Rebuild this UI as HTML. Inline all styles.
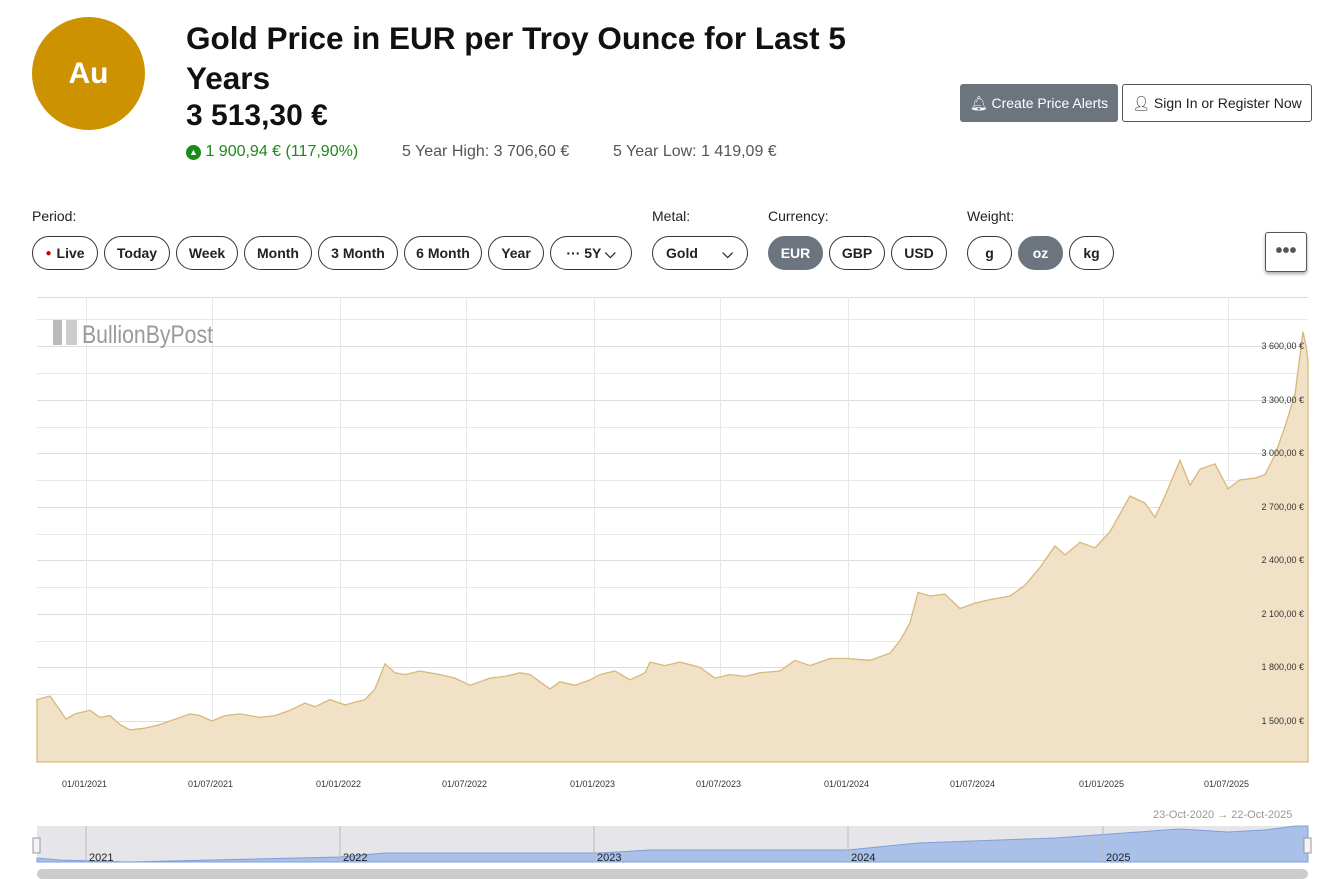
<!DOCTYPE html>
<html><head><meta charset="utf-8"><style>
body{margin:0;width:1328px;height:894px;background:#fff;font-family:"Liberation Sans",sans-serif;color:#222;position:relative;overflow:hidden}
.abs{position:absolute}
.logo{left:32px;top:17px;width:113px;height:113px;border-radius:50%;background:#cc9200;color:#fff;font-size:30px;font-weight:bold;display:flex;align-items:center;justify-content:center}
h1{position:absolute;left:186px;top:18px;margin:0;font-size:31.5px;line-height:40px;font-weight:bold;width:700px;color:#111}
.price{left:186px;top:99px;font-size:30px;font-weight:bold;color:#111}
.sub{top:143px;font-size:16px;color:#555}
.btn{position:absolute;border:1px solid #333;border-radius:21px;height:34px;box-sizing:border-box;font-size:14px;font-weight:bold;display:flex;align-items:center;justify-content:center;background:#fff;color:#222}
.dark{background:#6c757d;color:#fff;border-color:#6c757d}
.lbl{position:absolute;font-size:14px;color:#222;top:208px}
.yl{position:absolute;font-size:9px;color:#333;right:24px}
.xl{position:absolute;font-size:9px;color:#333;top:779px}
</style></head><body>
<div class="abs logo">Au</div>
<h1>Gold Price in EUR per Troy Ounce for Last 5 Years</h1>
<div class="abs price">3 513,30 €</div>
<div class="abs sub" style="left:186px;color:#1a8a1a"><span style="display:inline-block;width:15px;height:15px;border-radius:50%;background:#1a8a1a;color:#fff;font-size:9px;text-align:center;line-height:15px;vertical-align:1px">▲</span> 1 900,94 € (117,90%)</div>
<div class="abs sub" style="left:402px">5 Year High: 3 706,60 €</div>
<div class="abs sub" style="left:613px">5 Year Low: 1 419,09 €</div>
<div class="abs" style="left:960px;top:84px;width:158px;height:38px;background:#6c757d;border-radius:3px;color:#fff;font-size:14px;display:flex;align-items:center;justify-content:center">🔔︎ Create Price Alerts</div>
<div class="abs" style="left:1122px;top:84px;width:188px;height:36px;border:1px solid #555;border-radius:3px;font-size:14px;display:flex;align-items:center;justify-content:center">👤︎ Sign In or Register Now</div>
<div class="lbl" style="left:32px">Period:</div>
<div class="lbl" style="left:652px">Metal:</div>
<div class="lbl" style="left:768px">Currency:</div>
<div class="lbl" style="left:967px">Weight:</div>
<div class="btn" style="left:32px;top:236px;width:66px"><span style="color:#c00;font-size:10px;margin-right:5px">●</span>Live</div>
<div class="btn" style="left:104px;top:236px;width:66px">Today</div>
<div class="btn" style="left:176px;top:236px;width:62px">Week</div>
<div class="btn" style="left:244px;top:236px;width:68px">Month</div>
<div class="btn" style="left:318px;top:236px;width:80px">3 Month</div>
<div class="btn" style="left:404px;top:236px;width:78px">6 Month</div>
<div class="btn" style="left:488px;top:236px;width:56px">Year</div>
<div class="btn" style="left:550px;top:236px;width:82px">··· 5Y ⌵</div>
<div class="btn" style="left:652px;top:236px;width:96px;justify-content:space-between;padding:0 14px 0 13px">Gold<span>⌵</span></div>
<div class="btn dark" style="left:768px;top:236px;width:55px">EUR</div>
<div class="btn" style="left:829px;top:236px;width:56px">GBP</div>
<div class="btn" style="left:891px;top:236px;width:56px">USD</div>
<div class="btn" style="left:967px;top:236px;width:45px">g</div>
<div class="btn dark" style="left:1018px;top:236px;width:45px">oz</div>
<div class="btn" style="left:1069px;top:236px;width:45px">kg</div>
<div class="abs" style="left:1265px;top:232px;width:40px;height:38px;border:1px solid #555;border-radius:3px;box-shadow:0 2px 3px #aaa;font-size:20px;font-weight:bold;text-align:center;line-height:36px;color:#555">•••</div>
<svg class="abs" style="left:0;top:0" width="1328" height="894">
<g stroke="#e8e8e8" stroke-width="1">
<line x1="37" y1="297.5" x2="1308" y2="297.5" stroke="#ddd"/>
<line x1="37" y1="319.5" x2="1308" y2="319.5"/><line x1="37" y1="346.5" x2="1308" y2="346.5" stroke="#ddd"/><line x1="37" y1="373.5" x2="1308" y2="373.5"/><line x1="37" y1="400.5" x2="1308" y2="400.5" stroke="#ddd"/><line x1="37" y1="427.5" x2="1308" y2="427.5"/><line x1="37" y1="453.5" x2="1308" y2="453.5" stroke="#ddd"/><line x1="37" y1="480.5" x2="1308" y2="480.5"/><line x1="37" y1="507.5" x2="1308" y2="507.5" stroke="#ddd"/><line x1="37" y1="534.5" x2="1308" y2="534.5"/><line x1="37" y1="560.5" x2="1308" y2="560.5" stroke="#ddd"/><line x1="37" y1="587.5" x2="1308" y2="587.5"/><line x1="37" y1="614.5" x2="1308" y2="614.5" stroke="#ddd"/><line x1="37" y1="641.5" x2="1308" y2="641.5"/><line x1="37" y1="667.5" x2="1308" y2="667.5" stroke="#ddd"/><line x1="37" y1="694.5" x2="1308" y2="694.5"/><line x1="37" y1="721.5" x2="1308" y2="721.5" stroke="#ddd"/><line x1="37" y1="748.5" x2="1308" y2="748.5"/>
<line x1="86.5" y1="297" x2="86.5" y2="762"/><line x1="212.5" y1="297" x2="212.5" y2="762"/><line x1="340.5" y1="297" x2="340.5" y2="762"/><line x1="466.5" y1="297" x2="466.5" y2="762"/><line x1="594.5" y1="297" x2="594.5" y2="762"/><line x1="720.5" y1="297" x2="720.5" y2="762"/><line x1="848.5" y1="297" x2="848.5" y2="762"/><line x1="974.5" y1="297" x2="974.5" y2="762"/><line x1="1103.5" y1="297" x2="1103.5" y2="762"/><line x1="1228.5" y1="297" x2="1228.5" y2="762"/>
</g>
<path fill="#f1e1c6" stroke="#d9b779" stroke-width="1.3" d="M37,762 L37,699.6 L50,696 L60,710.3 L66,719.2 L75,713.9 L90,710.3 L100,717.4 L110,715.6 L120,724.6 L130,729.9 L145,728.1 L160,724.6 L175,719.2 L190,713.9 L200,715.6 L212,721 L225,715.6 L240,713.9 L260,717.4 L275,715.6 L290,710.3 L305,703.1 L315,706.7 L330,699.6 L345,704.9 L365,699.6 L375,688.9 L385,663.9 L395,672.8 L405,674.6 L420,671 L440,674.6 L455,678.1 L470,685.3 L490,678.1 L505,676.4 L520,672.8 L530,674.6 L550,688.9 L560,681.7 L575,685.3 L590,679.9 L600,674.6 L615,671 L630,679.9 L645,672.8 L650,662.1 L665,665.6 L680,662.1 L700,667.4 L715,678.1 L730,674.6 L745,676.4 L760,672.8 L780,671 L795,660.3 L810,665.6 L830,658.5 L848,658.5 L870,660.3 L890,653.1 L900,640.6 L910,622.8 L918,592.4 L930,596 L945,594.2 L960,608.5 L975,603.1 L990,599.6 L1010,596 L1025,585.3 L1040,567.4 L1055,546 L1065,554.9 L1080,542.4 L1095,547.8 L1110,531.7 L1130,496 L1145,503.1 L1155,517.4 L1165,496 L1180,460.3 L1190,485.3 L1200,469.2 L1215,463.9 L1228,488.9 L1240,479.9 L1255,478.1 L1265,474.6 L1275,454.9 L1285,426.4 L1295,394.2 L1303,331.7 L1306,346 L1308,360.3 L1308,762 Z"/>
<rect x="53" y="320" width="9" height="25" fill="#bbb"/><rect x="66" y="320" width="11" height="25" fill="#ccc"/>
<text x="82" y="343" font-family="Liberation Sans Narrow,Liberation Sans,sans-serif" font-size="25" fill="#999" textLength="131" lengthAdjust="spacingAndGlyphs">BullionByPost</text>
<rect x="37" y="826" width="1271" height="36" fill="#e6e6ea"/>
<path fill="#a9c0e8" stroke="#7d9fdb" d="M37,862 L37,858 L60,860 L130,862 L212,860 L340,857 L385,853 L600,853 L650,850 L848,850 L918,843 L1055,838 L1110,834 L1180,829 L1228,832 L1265,830 L1295,826 L1308,826 L1308,862 Z"/>
<g stroke="#bbb"><line x1="86" y1="826" x2="86" y2="862"/><line x1="340" y1="826" x2="340" y2="862"/><line x1="594" y1="826" x2="594" y2="862"/><line x1="848" y1="826" x2="848" y2="862"/><line x1="1103" y1="826" x2="1103" y2="862"/></g>
<g font-size="11" fill="#222" font-family="Liberation Sans,sans-serif"><text x="89" y="861">2021</text><text x="343" y="861">2022</text><text x="597" y="861">2023</text><text x="851" y="861">2024</text><text x="1106" y="861">2025</text></g>
<rect x="33" y="838" width="7" height="15" fill="#f4f4f4" stroke="#999"/><rect x="1304" y="838" width="7" height="15" fill="#f4f4f4" stroke="#999"/>
<rect x="37" y="869" width="1271" height="10" rx="5" fill="#ccc"/>
<text x="1153" y="818" font-size="11" fill="#999" font-family="Liberation Sans,sans-serif">23-Oct-2020  →  22-Oct-2025</text>
</svg>
<div class="yl" style="top:341px">3 600,00 €</div>
<div class="yl" style="top:395px">3 300,00 €</div>
<div class="yl" style="top:448px">3 000,00 €</div>
<div class="yl" style="top:502px">2 700,00 €</div>
<div class="yl" style="top:555px">2 400,00 €</div>
<div class="yl" style="top:609px">2 100,00 €</div>
<div class="yl" style="top:662px">1 800,00 €</div>
<div class="yl" style="top:716px">1 500,00 €</div>
<div class="xl" style="left:62px">01/01/2021</div>
<div class="xl" style="left:188px">01/07/2021</div>
<div class="xl" style="left:316px">01/01/2022</div>
<div class="xl" style="left:442px">01/07/2022</div>
<div class="xl" style="left:570px">01/01/2023</div>
<div class="xl" style="left:696px">01/07/2023</div>
<div class="xl" style="left:824px">01/01/2024</div>
<div class="xl" style="left:950px">01/07/2024</div>
<div class="xl" style="left:1079px">01/01/2025</div>
<div class="xl" style="left:1204px">01/07/2025</div>
</body></html>
